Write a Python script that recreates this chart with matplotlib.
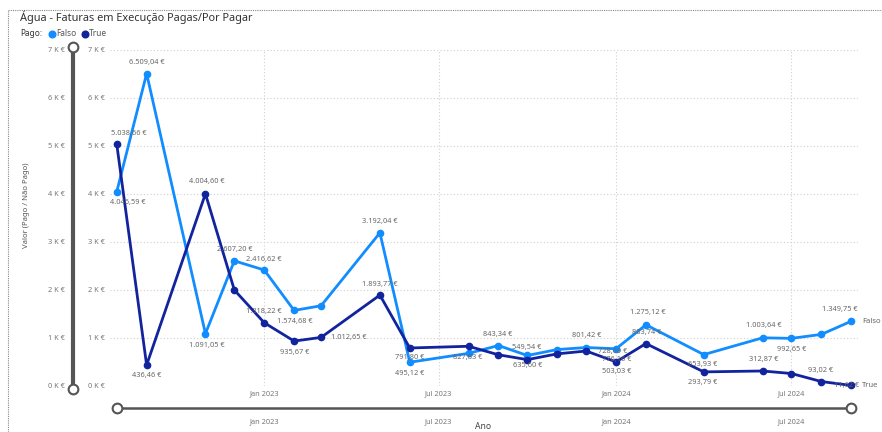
import pandas as pd
import matplotlib.pyplot as plt
from matplotlib.lines import Line2D

plt.rcParams['font.family'] = ['Noto Sans', 'DejaVu Sans']

# dados
meses = ["2022-08-01", "2022-09-01", "2022-11-01", "2022-12-01", "2023-01-01",
         "2023-02-01", "2023-03-01", "2023-05-01", "2023-06-01", "2023-08-01",
         "2023-09-01", "2023-10-01", "2023-11-01", "2023-12-01", "2024-01-01",
         "2024-02-01", "2024-04-01", "2024-06-01", "2024-07-01", "2024-08-01",
         "2024-09-01"]
falso = [4046.59, 6509.04, 1091.05, 2607.20, 2416.62, 1574.68, 1672, 3192.04,
         495.12, 680, 843.34, 635.60, 760, 801.42, 776.16, 1275.12, 653.93,
         1003.64, 992.65, 1075, 1349.75]
true = [5038.66, 436.46, 4004.60, 2000, 1318.22, 935.67, 1012.65, 1893.77,
        791.80, 827.83, 650, 549.54, 670, 728.69, 503.03, 883.74, 293.79,
        312.87, 260, 93.02, 11.62]
y_ticks = [0, 1000, 2000, 3000, 4000, 5000, 6000, 7000]
y_tick_labels = ["0 K €", "1 K €", "2 K €", "3 K €", "4 K €", "5 K €", "6 K €", "7 K €"]
x_ticks = ["2023-01-01", "2023-07-01", "2024-01-01", "2024-07-01"]
x_tick_labels = ["Jan 2023", "Jul 2023", "Jan 2024", "Jul 2024"]

# posição dos rótulos (dx, dy em pixels, y para baixo); None = sem rótulo
off_falso = [(11, 11), (0, -11), (1, 12), (0, -11), (0, -11), (1, 11), None,
             (0, -11), (0, 11), None, (-1, -11), (0, 10), None, (1, -12),
             (1, 11), (2, -12), (-1, 10), (1, -12), (0, 11), None, (-11, -12)]
off_true = [(12, -11), (0, 10), (1, -12), None, (0, -11), (1, 11), (28, 0),
            (0, -11), (0, 10), (-1, 11), None, (-1, -12), None, (27, 0),
            (1, 10), (1, -11), (-1, 11), (1, -11), None, (-1, -11), (-5, 0)]

c_falso = '#118DFF'
c_true = '#12239E'
grey = '#777777'


def fmt(v):
    s = '{:,.2f}'.format(v).replace(',', 'X').replace('.', ',').replace('X', '.')
    return s + ' €'


datas = pd.to_datetime(meses)

fig = plt.figure(figsize=(8.82, 4.32), dpi=100)
ax = fig.add_axes([110 / 882, 1 - 386 / 432, 748 / 882, 336 / 432])

ax.plot(datas, falso, color=c_falso, lw=2, marker='o', ms=4.5, clip_on=False, zorder=3)
ax.plot(datas, true, color=c_true, lw=2, marker='o', ms=4.5, clip_on=False, zorder=3)

for serie, offs in [(falso, off_falso), (true, off_true)]:
    for d, v, o in zip(datas, serie, offs):
        if o is None:
            continue
        ax.annotate(fmt(v), (d, v), xytext=(o[0], -o[1]), textcoords='offset pixels',
                    ha='center', va='center', fontsize=5.3, color='#666666', zorder=4)

# nome da série no fim da linha
ax.annotate('Falso', (datas[-1], falso[-1]), xytext=(11, 0), textcoords='offset pixels',
            ha='left', va='center', fontsize=5.5, color='#666666')
ax.annotate('True', (datas[-1], true[-1]), xytext=(11, 0), textcoords='offset pixels',
            ha='left', va='center', fontsize=5.5, color='#666666')

x0 = pd.Timestamp('2022-07-25')
x1 = pd.Timestamp('2024-09-08')
ax.set_xlim(x0, x1)
ax.set_ylim(0, 7000)

ax.set_yticks(y_ticks)
ax.set_yticklabels(y_tick_labels)
ax.set_xticks(pd.to_datetime(x_ticks))
ax.set_xticklabels(x_tick_labels)
ax.tick_params(axis='both', length=0, labelsize=5.3, labelcolor=grey)
ax.tick_params(axis='y', pad=4)
ax.tick_params(axis='x', pad=3)
ax.grid(True, color='#cfcfcf', linestyle=(0, (1, 2)), lw=0.8)
for s in ax.spines.values():
    s.set_visible(False)

# slider vertical com rótulos
ax.plot([-0.0495, -0.0495], [-0.009, 1.009], transform=ax.transAxes, color='#555555',
        lw=3, clip_on=False, solid_capstyle='butt')
ax.plot([-0.0495, -0.0495], [-0.009, 1.009], transform=ax.transAxes, ls='none',
        marker='o', ms=7, mfc='white', mec='#555555', mew=1.5, clip_on=False)
ytr = ax.get_yaxis_transform()
for t, lab in zip(y_ticks, y_tick_labels):
    ax.text(-0.06, t, lab, transform=ytr, ha='right', va='center', fontsize=5.3, color=grey)

# slider horizontal com rótulos
xtr = ax.get_xaxis_transform()
ax.plot([datas[0], datas[-1]], [-0.0655, -0.0655], transform=xtr, color='#555555',
        lw=1.8, clip_on=False)
ax.plot([datas[0], datas[-1]], [-0.0655, -0.0655], transform=xtr, ls='none',
        marker='o', ms=7, mfc='white', mec='#555555', mew=1.5, clip_on=False)
for t, lab in zip(pd.to_datetime(x_ticks), x_tick_labels):
    ax.text(t, -0.107, lab, transform=xtr, ha='center', va='center', fontsize=5.3, color=grey)

fig.text(483 / 882, 1 / 432, 'Ano', ha='center', va='bottom', fontsize=6.2, color='#444444')
fig.text(27 / 882, 1 - 205 / 432, 'Valor (Pago / Não Pago)', rotation=90, ha='center',
         va='center', fontsize=5.5, color='#555555')

# título e legenda
fig.text(20 / 882, 1 - 17 / 432, 'Água - Faturas em Execução Pagas/Por Pagar', ha='left',
         va='center', fontsize=7.9, color='#333333', weight='semibold')
fig.text(20 / 882, 1 - 34 / 432, 'Pago:', ha='left', va='center', fontsize=6,
         color='#333333', weight='bold')
fig.add_artist(Line2D([52 / 882], [1 - 34 / 432], marker='o', ms=4.8, color=c_falso,
                      transform=fig.transFigure))
fig.text(56 / 882, 1 - 34 / 432, 'Falso', ha='left', va='center', fontsize=6, color='#555555')
fig.add_artist(Line2D([85 / 882], [1 - 34 / 432], marker='o', ms=4.8, color=c_true,
                      transform=fig.transFigure))
fig.text(89 / 882, 1 - 34 / 432, 'True', ha='left', va='center', fontsize=6, color='#555555')

# moldura tracejada
fig.add_artist(Line2D([8 / 882, 1], [1 - 10 / 432, 1 - 10 / 432], color='#888888',
                      ls=(0, (1, 1)), lw=0.8, transform=fig.transFigure))
fig.add_artist(Line2D([8 / 882, 8 / 882], [0, 1 - 10 / 432], color='#888888',
                      ls=(0, (1, 1)), lw=0.8, transform=fig.transFigure))

fig.savefig('out.png', dpi=100)
